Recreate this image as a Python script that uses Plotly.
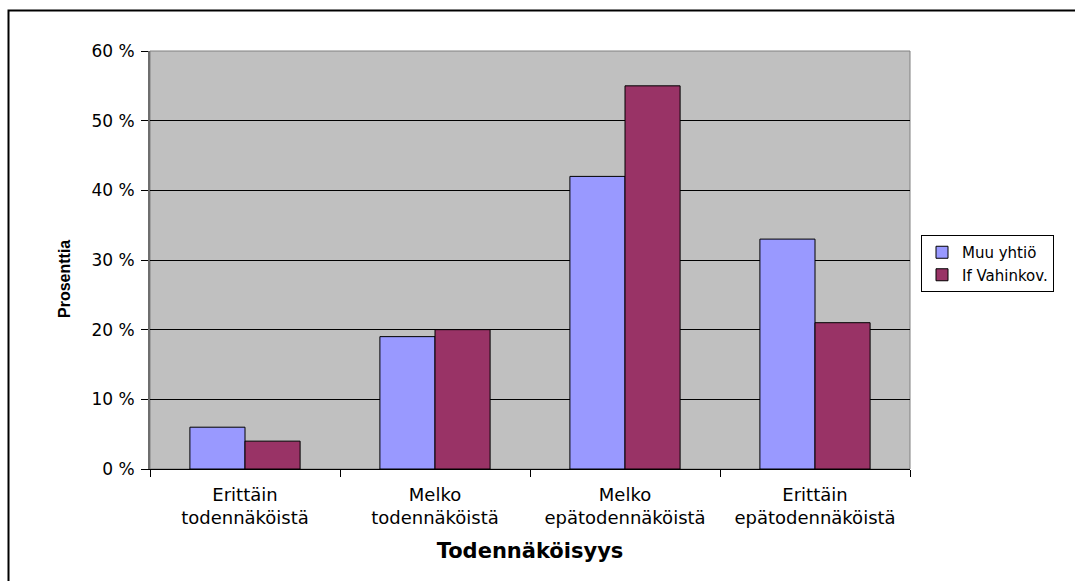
import plotly.graph_objects as go

categories = ["Erittäin<br>todennäköistä", "Melko<br>todennäköistä",
              "Melko<br>epätodennäköistä", "Erittäin<br>epätodennäköistä"]
muu_yhtio = [6, 19, 42, 33]
if_vahinkov = [4, 20, 55, 21]
series_names = ["Muu yhtiö", "If Vahinkov."]
y_ticks = [0, 10, 20, 30, 40, 50, 60]
y_tick_text = [f"{v} %" for v in y_ticks]

W, H = 1075, 581
L, R, T, B = 150, 165, 51, 112
pw, ph = W - L - R, H - T - B

def px_x(x):
    return (x - L) / pw

def px_y(y):
    return (H - B - y) / ph

fig = go.Figure()
fig.add_trace(go.Bar(x=categories, y=muu_yhtio, name=series_names[0],
                     marker=dict(color="#9999FF", line=dict(color="#000000", width=1))))
fig.add_trace(go.Bar(x=categories, y=if_vahinkov, name=series_names[1],
                     marker=dict(color="#993366", line=dict(color="#000000", width=1))))

fig.update_layout(
    width=W, height=H,
    margin=dict(l=L, r=R, t=T, b=B, pad=0),
    paper_bgcolor="#FFFFFF",
    plot_bgcolor="#C0C0C0",
    barmode="group",
    bargap=0.42,
    bargroupgap=0,
    font=dict(family="DejaVu Sans", color="#000000"),
    legend=dict(
        x=px_x(921), y=px_y(235), xanchor="left", yanchor="top",
        bordercolor="#000000", borderwidth=1, bgcolor="#FFFFFF",
        font=dict(family="DejaVu Sans", size=15, color="#000000"),
        itemwidth=30, tracegroupgap=0,
    ),
    shapes=[
        # grey frame of the plotting area
        dict(type="rect", xref="paper", yref="paper", x0=0, y0=0, x1=1, y1=1,
             line=dict(color="#808080", width=1), layer="below"),
        # outer chart border
        dict(type="rect", xref="paper", yref="paper",
             x0=px_x(8.5), y0=px_y(600), x1=px_x(1090), y1=px_y(10.5),
             line=dict(color="#000000", width=2)),
    ],
    annotations=[
        # value-axis title
        dict(text="<b>Prosenttia</b>", textangle=-90, showarrow=False,
             xref="paper", yref="paper", x=px_x(64), y=px_y(279),
             xanchor="center", yanchor="middle",
             font=dict(family="Liberation Sans", size=16, color="#000000")),
    ],
)

fig.update_xaxes(
    type="category",
    tickson="boundaries",
    ticks="outside", ticklen=7, tickcolor="#000000", tickwidth=1,
    ticklabelstandoff=9,
    showline=True, linecolor="#000000", linewidth=1,
    showgrid=False,
    tickfont=dict(family="DejaVu Sans", size=18, color="#000000"),
    title=dict(text="<b>Todennäköisyys</b>", standoff=16,
               font=dict(family="DejaVu Sans", size=21, color="#000000")),
)
fig.update_yaxes(
    range=[0, 60],
    tickvals=y_ticks, ticktext=y_tick_text,
    ticks="outside", ticklen=7, tickcolor="#000000", tickwidth=1,
    ticklabelstandoff=3,
    showline=True, linecolor="#6E6E6E", linewidth=2,
    showgrid=True, gridcolor="#000000", gridwidth=1,
    zeroline=False,
    tickfont=dict(family="DejaVu Sans", size=17, color="#000000"),
)

fig.write_html("out.html")
